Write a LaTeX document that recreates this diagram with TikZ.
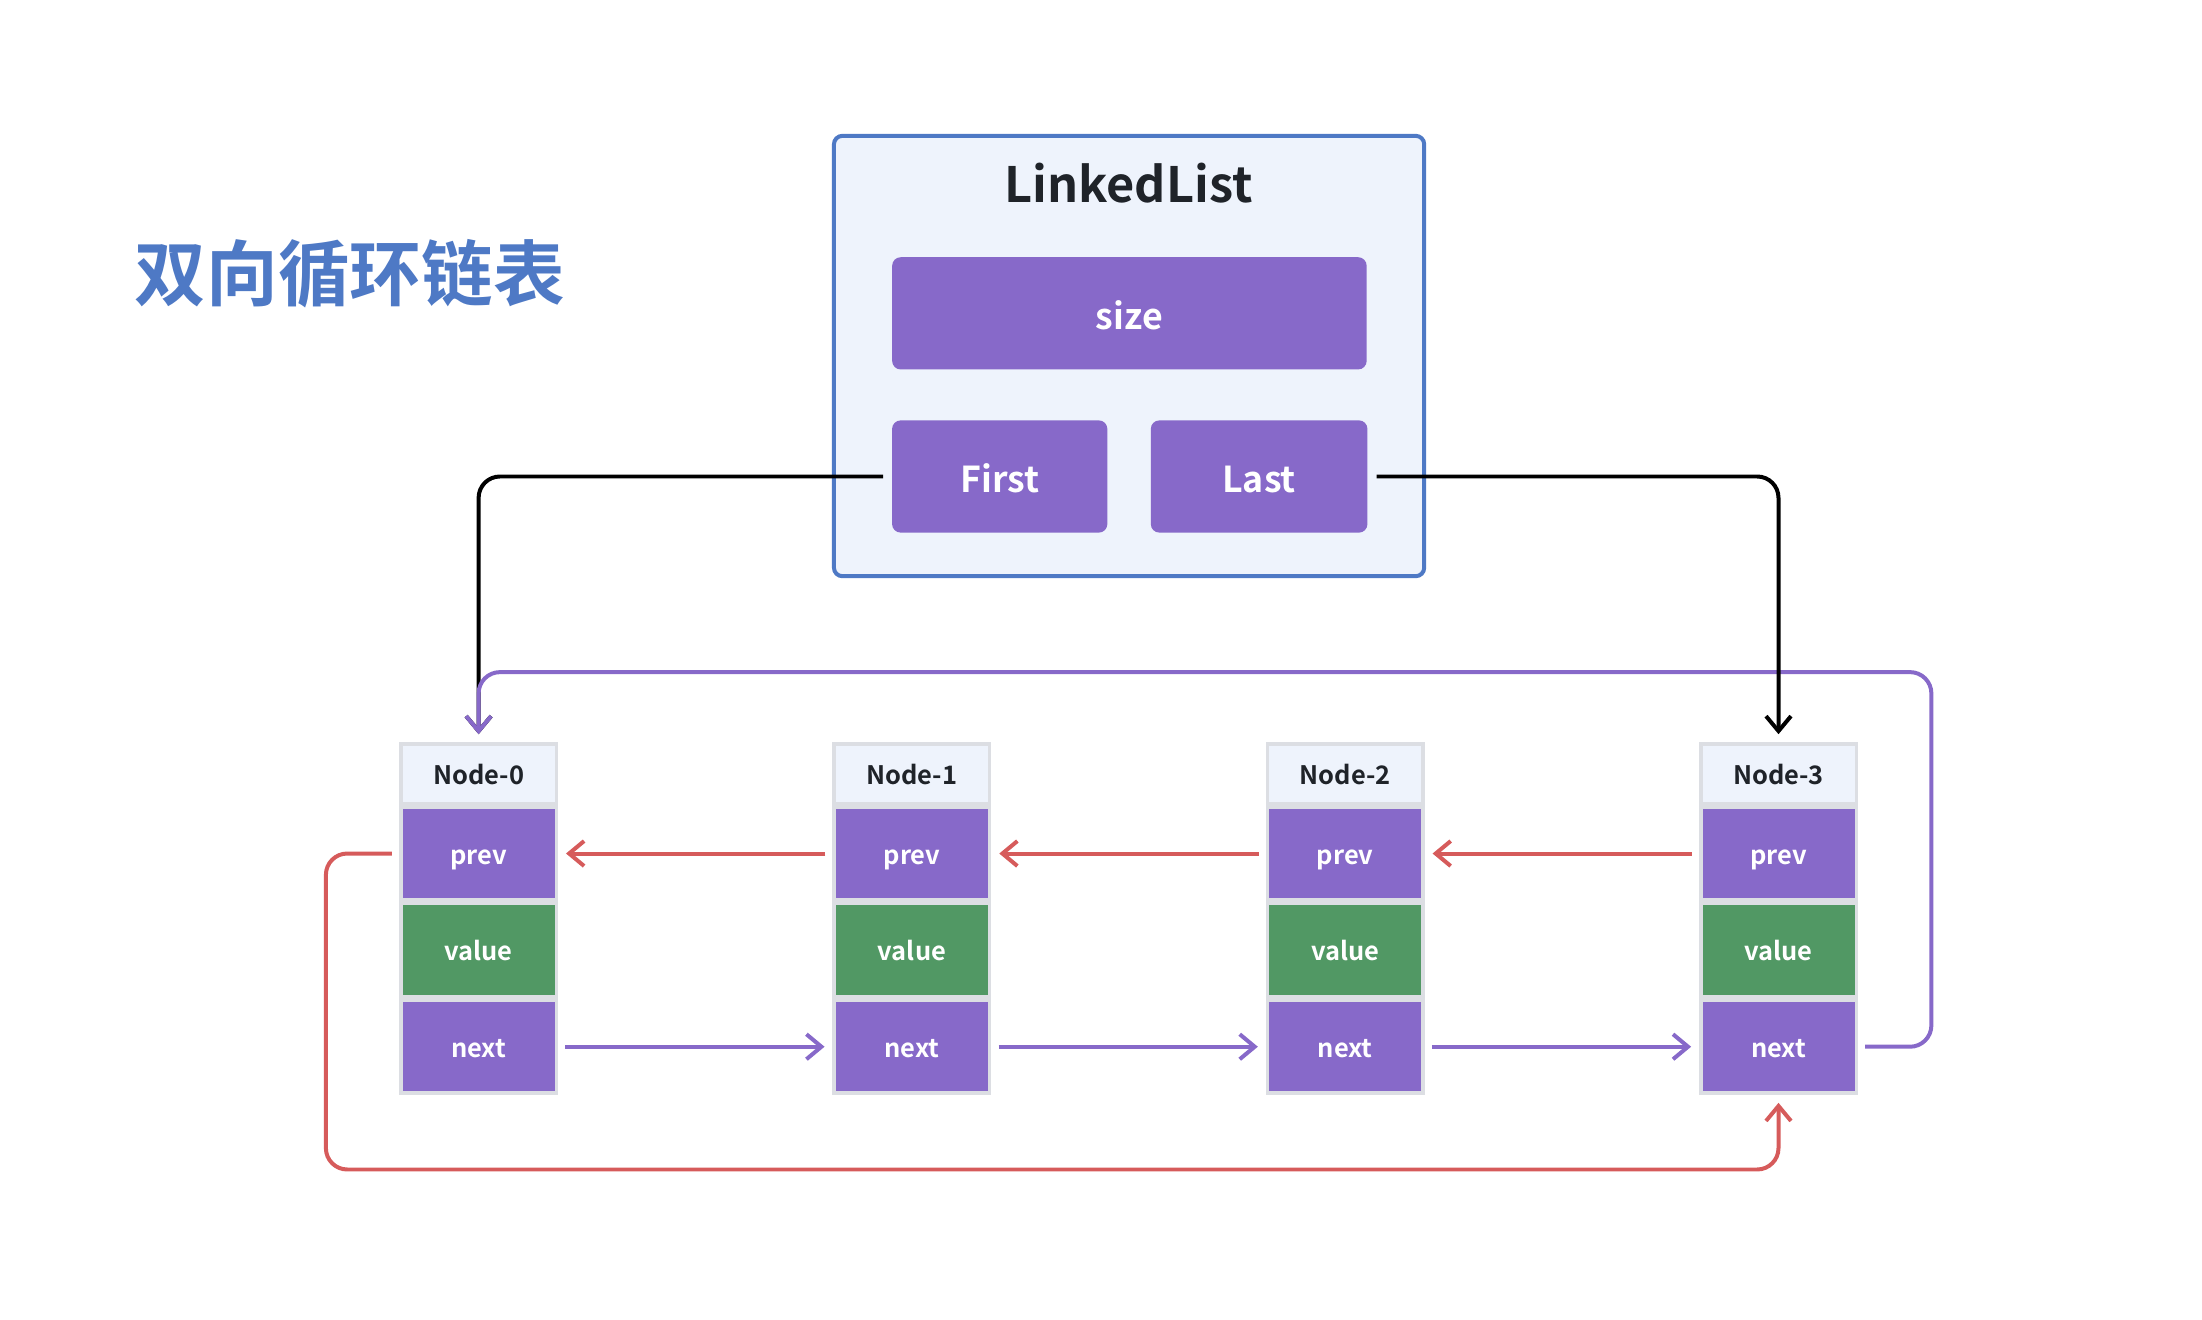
\documentclass[tikz,border=0pt]{standalone}
\usepackage{fontspec}
\setmainfont{Noto Sans CJK SC}[BoldFont={* Bold}]
\usetikzlibrary{arrows.meta}
\usetikzlibrary{positioning}

\definecolor{listblue}{HTML}{4E79C5}
\definecolor{listfill}{HTML}{EEF3FC}
\definecolor{fieldpurple}{HTML}{8769C9}
\definecolor{valuegreen}{HTML}{519864}
\definecolor{cellgray}{HTML}{DCDEE3}
\definecolor{prevred}{HTML}{D65B5B}
\definecolor{textdark}{HTML}{1F2329}

\begin{document}
\begin{tikzpicture}[>={Straight Barb[length=6pt,width=10pt]},line width=1.6pt,
  list box/.style={draw=listblue,fill=listfill,line width=1.6pt,rounded corners=0.12cm,minimum width=8.31cm,minimum height=6.2cm},
  field/.style={fill=fieldpurple,rounded corners=0.12cm,text=white,font=\fontsize{14.3}{14.3}\selectfont\bfseries,text height=14pt,text depth=0.8pt,minimum height=1.58cm},
  cell/.style={draw=cellgray,line width=1.42pt,minimum width=2.19cm,minimum height=1.31cm,text=white,font=\fontsize{10.2}{10.2}\selectfont\bfseries,text height=9.6pt,text depth=1pt},
  head cell/.style={cell,fill=listfill,text=textdark,minimum height=0.84cm},
  ptr cell/.style={cell,fill=fieldpurple},
  value cell/.style={cell,fill=valuegreen},
  link/.style={->,rounded corners=0.3cm,shorten <=1mm,shorten >=1.1mm}]

  \useasboundingbox (0,0) rectangle (31,-18.58);

  \node[text=listblue,font=\fontsize{28.7}{28.7}\selectfont\bfseries] (title) at (4.924,-3.854) {双向循环链表};

  % the list object
  \node[list box] (list) at (15.895,-5.012) {};
  \node[text=textdark,font=\fontsize{19.5}{19.5}\selectfont\bfseries] (list name) at (15.888,-2.58) {LinkedList};
  \node[field,minimum width=6.68cm] (size) at (15.9,-4.411) {size};
  \node[field,minimum width=3.03cm] (first) at (14.074,-6.708) {First};
  \node[field,minimum width=3.05cm] (last) [right=0.556cm of first] {Last};

  % the nodes
  \node[head cell,anchor=north] (h0) at (6.738,-10.446) {Node-0};
  \node[ptr cell] (p0) [below=0pt of h0] {prev};
  \node[value cell] (v0) [below=0pt of p0] {value};
  \node[ptr cell] (n0) [below=0pt of v0] {next};

  \node[head cell] (h1) [right=3.86cm of h0] {Node-1};
  \node[ptr cell] (p1) [below=0pt of h1] {prev};
  \node[value cell] (v1) [below=0pt of p1] {value};
  \node[ptr cell] (n1) [below=0pt of v1] {next};

  \node[head cell] (h2) [right=3.86cm of h1] {Node-2};
  \node[ptr cell] (p2) [below=0pt of h2] {prev};
  \node[value cell] (v2) [below=0pt of p2] {value};
  \node[ptr cell] (n2) [below=0pt of v2] {next};

  \node[head cell] (h3) [right=3.86cm of h2] {Node-3};
  \node[ptr cell] (p3) [below=0pt of h3] {prev};
  \node[value cell] (v3) [below=0pt of p3] {value};
  \node[ptr cell] (n3) [below=0pt of v3] {next};

  \coordinate (red turn) at (4.588,-16.464);
  \coordinate (next turn) at (27.19,-9.462);

  \path[every edge/.style={draw=prevred,link}]
    (p1.west) edge (p0.east)
    (p2.west) edge (p1.east)
    (p3.west) edge (p2.east);
  \path[every edge/.style={draw=fieldpurple,link}]
    (n0.east) edge (n1.west)
    (n1.east) edge (n2.west)
    (n2.east) edge (n3.west);

  \draw[link,prevred] (p0.west) -| (red turn) -| (n3.south);
  \draw[link,black] (first.west) -| (h0.north);
  \draw[link,fieldpurple] (n3.east) -| (next turn) -| (h0.north);
  \draw[link,black] (last.east) -| (h3.north);

\end{tikzpicture}
\end{document}
